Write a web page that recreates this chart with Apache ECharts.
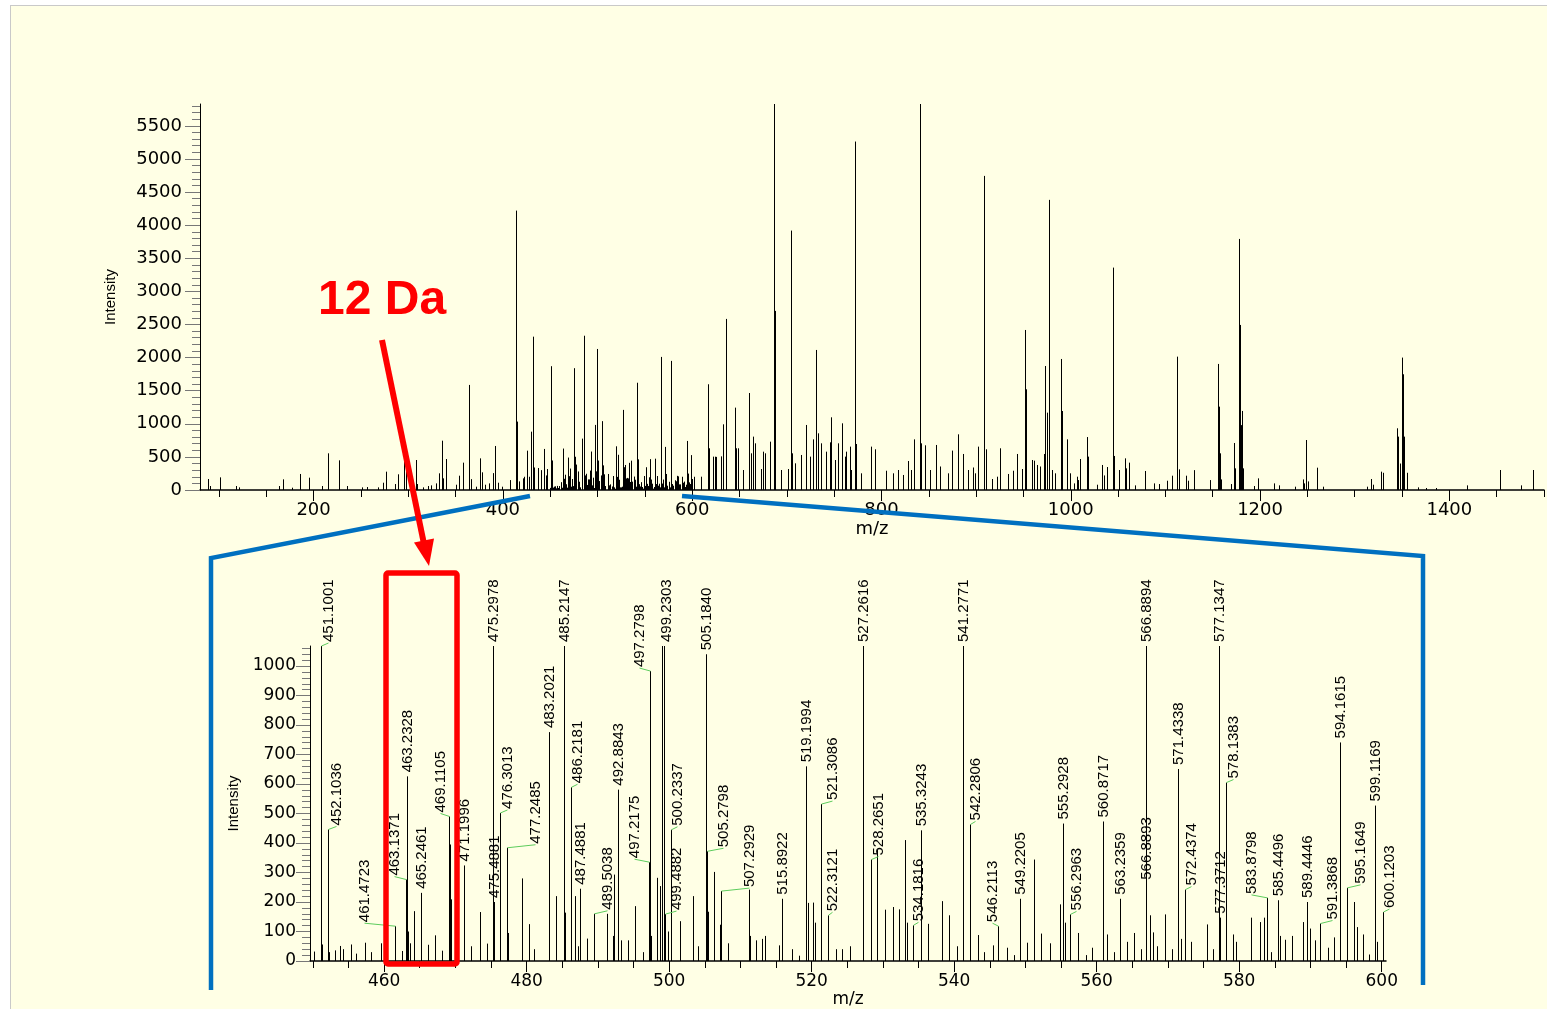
<!DOCTYPE html>
<html>
<head>
<meta charset="utf-8">
<script src="https://cdn.jsdelivr.net/npm/echarts@6/dist/echarts.min.js"></script>
<style>
html, body { margin: 0; padding: 0; background: #fff; overflow: hidden; }
#panel { position: absolute; left: 10px; top: 5px; width: 1600px; height: 1100px;
         background: #FFFFE5; border-left: 1px solid #c9c9c9; border-top: 1px solid #c9c9c9; }
#main { position: absolute; left: 0; top: 0; width: 1547px; height: 1009px; }
</style>
</head>
<body>
<div id="panel"></div>
<div id="main"></div>
<script>
var chart = echarts.init(document.getElementById('main'));

// full scan, outside the zoomed window: [m/z, intensity]
var surveyPeaks = [
    [88.2,166],[90.3,60],[100.8,191],[118.2,60],[121.7,40],[163.3,60],[167.5,161],[176.7,35],
    [185.5,242],[195.4,186],[208.5,60],[214.8,554],[227.2,448],[235.6,60],[251.5,40],[256,45],
    [268,40],[273.7,110],[276.9,277],[285.7,90],[289.2,237],[296,504],[297.3,287],[307.9,453],
    [309.7,90],[316,40],[320.9,60],[324.5,70],[329.4,100],[332,252],[335.8,745],[337.2,176],
    [340,468],[350.3,80],[353.8,216],[358.4,413],[364.4,1587],[366,164],[371.4,50],[375.6,478],
    [378,267],[381.3,80],[385.5,100],[389.7,255],[392.2,665],[394.4,110],[398.6,50],[407.7,150],
    [414.2,4220],[415.3,1033],[417.3,130],[420.8,176],[422.5,200],[425.5,594],[427.2,200],
    [430.1,881],[431.6,2316],[433.3,340],[436.8,332],[440.6,300],[443.6,620],[445.2,220],[446.7,317],
    [602.4,200],[609.5,201],[616.6,1597],[618.3,630],[621.9,504],[623.6,503],[625.4,500],[630.7,508],
    [633.1,992],[636,2584],[644.8,1244],[646.2,630],[648.3,630],[653.6,302],[660,1465],[661.7,554],
    [664.6,806],[666,705],[673,317],[674.8,579],[677.2,554],[682.5,730],[686.5,5900],[687.2,1823],
    [688,2705],[693.5,302],[694.2,302],[701.2,317],[704.4,3918],[705.5,554],[708.3,403],[714.6,340],
    [715.3,529],[720.6,982],[724.1,504],[727.7,765],[731.2,2115],[733,856],[736.5,705],[741.8,579],
    [745.3,720],[747.1,1098],[750.6,453],[754.2,705],[758.7,1007],[761.2,504],[763,579],[766.5,655],
    [768.3,302],[772.5,5263],[773.5,695],[778.8,252],[788.7,655],[792.9,615],[805.3,291],[812.4,252],
    [817,302],[823,227],[828.3,438],[831.7,302],[834.2,765],[840.9,5900],[841.6,705],[845.8,675],
    [851.1,302],[857.1,680],[861.6,355],[870.6,252],[874,595],[881,841],[886.4,544],[891.7,302],
    [897,340],[898.7,252],[902.3,655],[908.6,4744],[910,615],[917.1,166],[921.7,201],[925.6,630],
    [933.3,242],[939.3,291],[942.9,544],[948.8,317],[951.3,2417],[952.4,1521],[958.7,453],[961.2,443],
    [964,378],[967.5,355],[972.1,544],[973.2,1873],[974.6,1168],[976.7,4382],[979.9,302],[983.4,252],
    [989.4,1979],[990.5,1193],[995.8,765],[999.3,252],[1003.9,100],[1006.3,201],[1008.1,150],
    [1009.9,468],[1016.9,800],[1018,504],[1027.5,80],[1032.8,378],[1034.6,220],[1038.8,347],
    [1044.8,3359],[1045.8,514],[1050.5,302],[1057.5,478],[1058.6,327],[1061.8,413],[1068.1,70],
    [1078.7,287],[1087.5,100],[1093.4,90],[1101.6,140],[1106.9,216],[1112.5,2014],[1114,312],
    [1122,216],[1123.5,140],[1129.8,300],[1146.8,150],[1155.2,1904],[1156.3,1259],[1157.7,554],
    [1159,160],[1169.3,90],[1172.8,710],[1173.9,327],[1177.4,3792],[1178.5,2493],[1179.6,980],
    [1181,1194],[1182.2,327],[1193.4,60],[1197.6,176],[1215.2,100],[1219.8,70],[1237.4,50],
    [1245.2,160],[1246.9,100],[1249,755],[1250.5,130],[1260.6,337],[1266.3,50],[1313.2,50],
    [1316.8,166],[1319.3,80],[1328,277],[1330.4,260],[1345,932],[1346.1,806],[1347.6,400],
    [1350,2000],[1351.2,1748],[1352.3,806],[1355.5,260],[1366.9,40],[1375,30],[1385.5,30],
    [1419,70],[1454,302],[1475.4,70],[1488.7,302]
];

// zoomed window 450-600: [m/z, intensity]
var zoomPeaks = [
    [450.1,32],[451.1001,1870],[451.3,56],[452.1036,446],[452.3,30],[453.1,36],[453.8,51],[454.3,40],
    [455.3,56],[456.1,25],[457.25,62],[458.2,30],[459.5,60],[461.4723,118],[462.5,34],[463.1371,276],
    [463.2328,626],[463.35,100],[463.7,60],[464.26,169],[465.2461,231],[466.2,55],[467.1,87],[468.1,35],
    [469.1105,490],[469.25,395],[469.35,209],[471.1996,324],[472.2,50],[473.5,166],[474.5,59],
    [475.2978,1840],[475.4881,200],[476.3013,502],[477.2485,384],[477.4,95],[479.37,280],[480.3,125],
    [481.1,40],[483.2021,776],[484.1,220],[485.2147,2330],[485.4,164],[486.2181,589],[486.8,220],
    [487.2,50],[487.4881,245],[488.5,76],[489.5038,160],[491.3,160],[492.07,85],[492.3,293],
    [492.8843,581],[493.25,70],[494.2,70],[495.15,186],[496.3,30],[497.2175,335],[497.2798,983],
    [497.46,85],[498.25,282],[498.7,254],[498.99,1150],[499.2303,2130],[499.33,169],[499.4882,159],
    [499.8,100],[500.2337,445],[501.5,135],[503.4,220],[504.0,50],[505.1840,1040],[505.2798,372],
    [505.5,167],[506.24,302],[507.15,123],[507.2929,237],[508.3,60],[511.15,242],[511.4,85],[512.2,70],
    [513.0,75],[513.5,85],[515.45,53],[515.8922,211],[517.3,40],[518.26,18],[519.1994,660],[519.43,197],
    [520.2,198],[520.4,130],[521.3086,532],[522.3121,155],[523.4,40],[524.3,40],[525.4,50],
    [527.2616,1210],[528.2651,344],[529.2,378],[530.3,174],[531.4,183],[532.2,175],[533.1,410],
    [533.4,130],[534.1816,121],[535.3243,443],[536.35,126],[538.27,203],[539.3,155],[540.4,50],
    [541.2771,1620],[542.2806,463],[543.3,88],[544.2,30],[545.4,53],[546.2113,118],[547.35,45],
    [548.4,20],[549.2205,211],[550.2,62],[551.2,344],[552.2,93],[553.5,60],[554.8,192],[555.2928,466],
    [555.5,130],[556.2963,158],[557.4,95],[558.5,20],[559.4,45],[560.8717,473],[561.4,90],[562.4,30],
    [563.2359,211],[564.2,65],[565.25,95],[566.2,40],[566.8893,262],[566.8894,2010],[567.45,155],
    [567.9,97],[568.5,50],[569.55,158],[570.5,40],[571.4338,651],[571.9,75],[572.4374,242],[573.2,65],
    [575.5,124],[576.3,40],[577.1347,1950],[577.3712,147],[578.1383,605],[579.16,90],[579.6,65],
    [581.6,147],[582.9,132],[583.5,147],[583.8798,214],[584.5,30],[585.4496,206],[585.7,85],[586.4,72],
    [587.36,85],[588.9,132],[589.4446,200],[589.9,110],[590.6,70],[591.3868,127],[592.46,45],
    [593.27,80],[594.1615,741],[595.1649,248],[596.06,200],[596.6,115],[597.4,90],[598.2,22],
    [599.1169,527],[599.3,65],[600.1203,166]
];

var zoomLabels = [
    '451.1001','452.1036','461.4723','463.1371','463.2328','465.2461','469.1105','471.1996',
    '475.2978','475.4881','476.3013','477.2485','483.2021','485.2147','486.2181','487.4881',
    '489.5038','492.8843','497.2175','497.2798','499.2303','499.4882','500.2337','505.1840',
    '505.2798','507.2929','515.8922','519.1994','521.3086','522.3121','527.2616','528.2651',
    '534.1816','535.3243','541.2771','542.2806','546.2113','549.2205','555.2928','556.2963',
    '560.8717','563.2359','566.8893','566.8894','571.4338','572.4374','577.1347','577.3712',
    '578.1383','583.8798','585.4496','589.4446','591.3868','594.1615','595.1649','599.1169','600.1203'
];

var topXLabels = [200, 400, 600, 800, 1000, 1200, 1400];
var topYLabels = [0, 500, 1000, 1500, 2000, 2500, 3000, 3500, 4000, 4500, 5000, 5500];
var zoomXLabels = [460, 480, 500, 520, 540, 560, 580, 600];
var zoomYLabels = [0, 100, 200, 300, 400, 500, 600, 700, 800, 900, 1000];

var TOP_MAX = 5830, ZOOM_MAX = 1068;

// sideways nudge of crowded labels in px, drawn back to the peak with a green leader
var labelShift = {
    '451.1001': 7, '452.1036': 8, '461.4723': -31, '463.1371': -12, '469.1105': -9,
    '476.3013': 7, '477.2485': 28, '486.2181': 6, '489.5038': 13, '497.2175': -15,
    '497.2798': -11, '499.2303': 2, '499.4882': 11, '500.2337': 6, '505.2798': 16,
    '507.2929': 28, '521.3086': 11, '522.3121': 4, '528.2651': 7, '534.1816': 5,
    '542.2806': 5, '546.2113': -6, '556.2963': 6, '572.4374': 6, '578.1383': 7,
    '583.8798': -16, '591.3868': 12, '595.1649': 13, '600.1203': 6
};

function steps(a, b, s) {
    var r = [];
    for (var v = a; v <= b + 1e-9; v += s) r.push(+v.toFixed(3));
    return r;
}

function stick(yMax) {
    return function (params, api) {
        var x = api.value(0);
        var a = api.coord([x, 0]);
        var b = api.coord([x, Math.min(api.value(1), yMax)]);
        var px = Math.round(a[0]) + 0.5;
        return {
            type: 'line',
            shape: { x1: px, y1: a[1], x2: px, y2: b[1] },
            style: { stroke: '#000', lineWidth: 1 }
        };
    };
}

function peakLabel(params, api) {
    var name = zoomLabels[params.dataIndex];
    var p = api.coord([api.value(0), Math.min(api.value(1), ZOOM_MAX)]);
    var px = Math.round(p[0]) + 0.5;
    var dx = labelShift[name] || 0;
    var lx = px + dx, ly = p[1] - 4;
    var kids = [{
        type: 'text', x: lx, y: ly, rotation: Math.PI / 2,
        style: { text: name, x: 0, y: 0, align: 'left', verticalAlign: 'middle',
                 fontSize: 15, fontFamily: 'Liberation Sans', fill: '#000' }
    }];
    if (Math.abs(dx) >= 4) {
        kids.unshift({
            type: 'polyline',
            shape: { points: [[px, p[1]], [lx, ly + 1]] },
            style: { stroke: '#5ccc5c', lineWidth: 1, fill: null }
        });
    }
    return { type: 'group', children: kids };
}

var allPeaks = surveyPeaks.concat(zoomPeaks).sort(function (a, b) { return a[0] - b[0]; });
var labelData = zoomLabels.map(function (n) {
    var v = parseFloat(n);
    var hit = zoomPeaks.filter(function (p) { return p[0] === v; })[0];
    return [v, hit[1]];
});

var plain = function (v) { return String(v); };
var tickFont = { fontFamily: 'DejaVu Sans', color: '#000', formatter: plain };
var nameFont = { fontSize: 15, fontFamily: 'Liberation Sans', color: '#000' };

option = {
    animation: false,
    grid: [
        { left: 200, right: 3, top: 104, bottom: 519 },
        { left: 310, right: 161, top: 646, bottom: 47 }
    ],
    xAxis: [
        {
            gridIndex: 0, type: 'value', min: 80, max: 1500, position: 'bottom',
            axisLine: { lineStyle: { color: '#000', width: 1.5 } },
            axisTick: { customValues: steps(100, 1500, 50), length: 7, lineStyle: { color: '#000' } },
            axisLabel: Object.assign({ customValues: topXLabels, margin: 11, fontSize: 18 }, tickFont),
            splitLine: { show: false },
            name: 'm/z', nameLocation: 'middle', nameGap: 30,
            nameTextStyle: { fontSize: 18, fontFamily: 'DejaVu Sans', color: '#000' }
        },
        {
            gridIndex: 0, type: 'value', min: 80, max: 1500, position: 'bottom',
            axisLine: { show: false },
            axisTick: { customValues: topXLabels, length: 11, lineStyle: { color: '#000' } },
            axisLabel: { show: false }, splitLine: { show: false }
        },
        {
            gridIndex: 1, type: 'value', min: 449.6, max: 600.6, position: 'bottom',
            axisLine: { lineStyle: { color: '#000', width: 1.5 } },
            axisTick: { customValues: steps(450, 600, 5), length: 7, lineStyle: { color: '#000' } },
            axisLabel: Object.assign({ customValues: zoomXLabels, margin: 12, fontSize: 17 }, tickFont),
            splitLine: { show: false },
            name: 'm/z', nameLocation: 'middle', nameGap: 30,
            nameTextStyle: { fontSize: 17, fontFamily: 'DejaVu Sans', color: '#000' }
        },
        {
            gridIndex: 1, type: 'value', min: 449.6, max: 600.6, position: 'bottom',
            axisLine: { show: false },
            axisTick: { customValues: zoomXLabels, length: 11, lineStyle: { color: '#000' } },
            axisLabel: { show: false }, splitLine: { show: false }
        }
    ],
    yAxis: [
        {
            gridIndex: 0, type: 'value', min: 0, max: TOP_MAX, position: 'left',
            axisLine: { show: true, lineStyle: { color: '#000' } },
            axisTick: { show: true, customValues: steps(0, 5800, 100), length: 8, lineStyle: { color: '#777' } },
            axisLabel: Object.assign({ customValues: topYLabels, margin: 18, fontSize: 18 }, tickFont),
            splitLine: { show: false },
            name: 'Intensity', nameLocation: 'middle', nameGap: 82, nameTextStyle: nameFont
        },
        {
            gridIndex: 0, type: 'value', min: 0, max: TOP_MAX, position: 'left',
            axisLine: { show: false },
            axisTick: { show: true, customValues: topYLabels, length: 15, lineStyle: { color: '#777' } },
            axisLabel: { show: false }, splitLine: { show: false }
        },
        {
            gridIndex: 1, type: 'value', min: 0, max: ZOOM_MAX, position: 'left',
            axisLine: { show: true, lineStyle: { color: '#000' } },
            axisTick: { show: true, customValues: steps(0, 1060, 20), length: 8, lineStyle: { color: '#777' } },
            axisLabel: Object.assign({ customValues: zoomYLabels, margin: 14, fontSize: 17 }, tickFont),
            splitLine: { show: false },
            name: 'Intensity', nameLocation: 'middle', nameGap: 64, nameTextStyle: nameFont
        },
        {
            gridIndex: 1, type: 'value', min: 0, max: ZOOM_MAX, position: 'left',
            axisLine: { show: false },
            axisTick: { show: true, customValues: zoomYLabels, length: 14, lineStyle: { color: '#777' } },
            axisLabel: { show: false }, splitLine: { show: false }
        }
    ],
    series: [
        { type: 'custom', xAxisIndex: 0, yAxisIndex: 0, renderItem: stick(TOP_MAX), data: allPeaks, silent: true },
        { type: 'custom', xAxisIndex: 2, yAxisIndex: 2, renderItem: stick(ZOOM_MAX), data: zoomPeaks, silent: true },
        { type: 'custom', xAxisIndex: 2, yAxisIndex: 2, renderItem: peakLabel, data: labelData, silent: true, z: 5 }
    ],
    graphic: [
        { type: 'polyline', z: 100, shape: { points: [[211, 990], [211, 558], [530, 496]] },
          style: { stroke: '#0070C0', lineWidth: 4.5, fill: null } },
        { type: 'polyline', z: 100, shape: { points: [[682, 496], [1423, 556], [1423, 985]] },
          style: { stroke: '#0070C0', lineWidth: 4.5, fill: null } },
        { type: 'rect', z: 100, shape: { x: 386, y: 573, width: 71, height: 391, r: 2 },
          style: { stroke: '#FF0000', fill: null, lineWidth: 5.5 } },
        { type: 'line', z: 100, shape: { x1: 382, y1: 340, x2: 424, y2: 544 },
          style: { stroke: '#FF0000', lineWidth: 6 } },
        { type: 'polygon', z: 100, shape: { points: [[429, 566], [434, 538.5], [414, 542.5]] },
          style: { fill: '#FF0000' } },
        { type: 'text', z: 100, x: 318, y: 301,
          style: { text: '12 Da', fontSize: 48, fontWeight: 'bold', fontFamily: 'Liberation Sans',
                   fill: '#FF0000', verticalAlign: 'middle' } }
    ]
};
chart.setOption(option);
</script>
</body>
</html>
